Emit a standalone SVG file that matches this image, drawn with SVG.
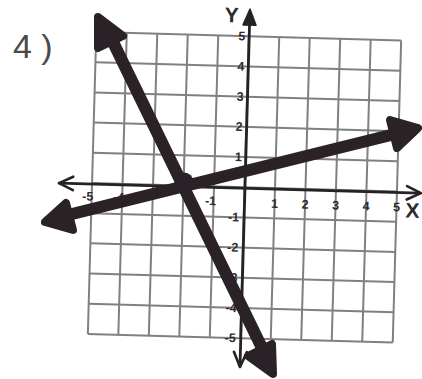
<svg xmlns="http://www.w3.org/2000/svg" width="422" height="379" viewBox="0 0 422 379">
<style>
.grid{stroke:#808080;stroke-width:2;fill:none}
.axis{stroke:#262224;stroke-width:2.8;fill:none;stroke-linecap:round}
.ah{stroke:#262224;stroke-width:2.6;fill:none;stroke-linecap:round;stroke-linejoin:round}
.num{font-family:"Liberation Sans",Arial,sans-serif;font-size:12.5px;font-weight:bold;fill:#2f2b2d}
.lab{font-family:"Liberation Sans",Arial,sans-serif;font-size:21px;font-weight:bold;fill:#2f2b2d}
.line{stroke:#2a2227;stroke-width:12;stroke-linecap:round;fill:none}
.head{fill:#2a2227;stroke:#2a2227;stroke-width:8;stroke-linejoin:round}
</style>
<rect width="422" height="379" fill="#ffffff"/>
<text x="13" y="58" font-family="Liberation Sans,Arial,sans-serif" font-size="34" fill="#4a4a4a">4 )</text>
<g id="graph" transform="rotate(1.6 244.5 187.25)">
<g id="grid" class="grid">
<path d="M92 36.25V338.25M122.5 36.25V338.25M153 36.25V338.25M183.5 36.25V338.25M214 36.25V338.25M244.5 36.25V338.25M275 36.25V338.25M305.5 36.25V338.25M336 36.25V338.25M366.5 36.25V338.25M397 36.25V338.25"/>
<path d="M92 36.25H397M92 66.45H397M92 96.65H397M92 126.85H397M92 157.05H397M92 187.25H397M92 217.45H397M92 247.65H397M92 277.85H397M92 308.05H397M92 338.25H397"/>
</g>
<g id="labels">
<text class="num" x="241" y="40.5" text-anchor="end">5</text>
<text class="num" x="241" y="70.7" text-anchor="end">4</text>
<text class="num" x="241" y="100.9" text-anchor="end">3</text>
<text class="num" x="241" y="131.1" text-anchor="end">2</text>
<text class="num" x="241" y="161.3" text-anchor="end">1</text>
<text class="num" x="240" y="221.7" text-anchor="end">-1</text>
<text class="num" x="240" y="251.9" text-anchor="end">-2</text>
<text class="num" x="240" y="282.1" text-anchor="end">-3</text>
<text class="num" x="240" y="312.3" text-anchor="end">-4</text>
<text class="num" x="240" y="342.5" text-anchor="end">-5</text>
<text class="num" x="275" y="207" text-anchor="middle">1</text>
<text class="num" x="305.5" y="207" text-anchor="middle">2</text>
<text class="num" x="336" y="207" text-anchor="middle">3</text>
<text class="num" x="366.5" y="207" text-anchor="middle">4</text>
<text class="num" x="397" y="207" text-anchor="middle">5</text>
<text class="num" x="211" y="206" text-anchor="middle">-1</text>
<text class="num" x="119" y="205" text-anchor="middle">-4</text>
<text class="num" x="88" y="205" text-anchor="middle">-5</text>
<text class="lab" x="227" y="22.5" text-anchor="middle">Y</text>
<text class="lab" x="413" y="213" text-anchor="middle">X</text>
</g>
<g id="axes">
<path class="axis" d="M59 188.25H420"/>
<path class="ah" d="M73 181.5L59 188.25L73 195"/>
<path class="ah" d="M407 181.5L421 188.25L407 195"/>
<path class="axis" d="M245 20V366"/>
<path d="M245 9L238.5 25H251.5Z" fill="#262224" stroke="#262224" stroke-width="1.5" stroke-linejoin="round"/>
<path class="ah" d="M238.5 352L245 367L251.5 352"/>
</g>
</g>
<g id="connectors">
<path class="line" d="M112 40L264 352"/>
<path class="line" d="M68 215L395 134"/>
<circle cx="184" cy="182" r="9.5" fill="#2a2227"/>
<path class="head" d="M98 17L123 36L98 48Z"/>
<path class="head" d="M273 374L248 356L272 344Z"/>
<path class="head" d="M45 222L66 203L73 230Z"/>
<path class="head" d="M418 128L390 120L397 148Z"/>
</g>
</svg>
